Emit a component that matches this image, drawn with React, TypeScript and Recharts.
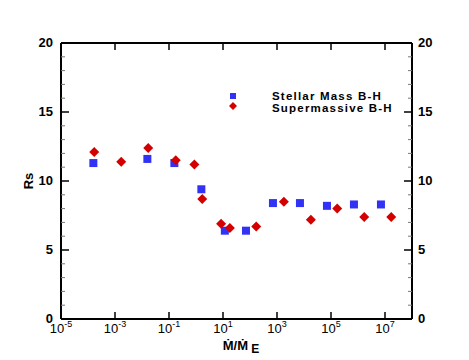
import React from 'react'
import { ScatterChart, Scatter, XAxis, YAxis, Legend } from 'recharts'

// accretion rate (Mdot / Mdot_E) and Rs
const stellarRate = [1.58e-4, 0.0158, 0.158, 1.58, 11.7, 71, 708, 7.08e3, 7.08e4, 7.08e5, 7.08e6]
const stellarRs = [11.3, 11.6, 11.3, 9.4, 6.4, 6.4, 8.4, 8.4, 8.2, 8.3, 8.3]

const smbhRate = [1.7e-4, 1.7e-3, 1.7e-2, 0.178, 0.87, 1.7, 8.5, 18, 170, 1.8e3, 1.8e4, 1.7e5, 1.7e6, 1.7e7]
const smbhRs = [12.1, 11.4, 12.4, 11.5, 11.2, 8.7, 6.9, 6.6, 6.7, 8.5, 7.2, 8.0, 7.4, 7.4]

const xTickExp = [-5, -3, -1, 1, 3, 5, 7]
const yTicks = Array.from({ length: 21 }, (_, i) => i)

const BLUE = '#3232f6'
const RED = '#d40000'
const FONT = '"Liberation Sans", Arial, Helvetica, sans-serif'

const stellar = stellarRate.map((x, i) => ({ x, y: stellarRs[i] }))
const smbh = smbhRate.map((x, i) => ({ x, y: smbhRs[i] }))

const Square = ({ cx, cy }: any) => <rect x={cx - 4} y={cy - 4} width={8} height={8} fill={BLUE} />
const Diamond = ({ cx, cy }: any) => (
  <polygon points={`${cx},${cy - 5} ${cx + 5},${cy} ${cx},${cy + 5} ${cx - 5},${cy}`} fill={RED} />
)
const Nothing = () => <g />

const BottomTick = ({ x, y, payload }: any) => {
  const exp = Math.round(Math.log10(payload.value))
  return (
    <g>
      <line x1={x} y1={y} x2={x} y2={y - 7} stroke="#000" strokeWidth={1.5} />
      <text x={x} y={y + 14} textAnchor="middle" fontFamily={FONT} fontSize={13} fill="#000">
        10<tspan fontSize={9} dy={-6}>{exp}</tspan>
      </text>
    </g>
  )
}

const TopTick = ({ x, y }: any) => <line x1={x} y1={y} x2={x} y2={y + 7} stroke="#000" strokeWidth={1.5} />

const LeftTick = ({ x, y, payload }: any) => {
  const major = payload.value % 5 === 0
  return (
    <g>
      <line x1={x} y1={y} x2={x + (major ? 8 : 4)} y2={y} stroke={major ? '#000' : '#777'} strokeWidth={major ? 1.5 : 1} />
      {major && (
        <text x={x - 8} y={y} dy={4} textAnchor="end" fontFamily={FONT} fontWeight="bold" fontSize={13} fill="#000">
          {payload.value}
        </text>
      )}
    </g>
  )
}

const RightTick = ({ x, y, payload }: any) => {
  const major = payload.value % 5 === 0
  return (
    <g>
      <line x1={x} y1={y} x2={x - (major ? 8 : 4)} y2={y} stroke={major ? '#000' : '#777'} strokeWidth={major ? 1.5 : 1} />
      {major && (
        <text x={x + 6} y={y} dy={4} textAnchor="start" fontFamily={FONT} fontWeight="bold" fontSize={13} fill="#000">
          {payload.value}
        </text>
      )}
    </g>
  )
}

const LegendBox = () => (
  <svg width={180} height={30}>
    <rect x={2} y={4} width={6} height={6} fill={BLUE} />
    <polygon points="5,13 9,17 5,21 1,17" fill={RED} />
    <text x={44} y={11} fontFamily={FONT} fontWeight="bold" fontSize={11.5} letterSpacing={1.2}>Stellar Mass B-H</text>
    <text x={44} y={23} fontFamily={FONT} fontWeight="bold" fontSize={11.5} letterSpacing={1.2}>Supermassive B-H</text>
  </svg>
)

export default function App() {
  return (
    <div style={{ position: 'absolute', left: 0, top: 0, background: '#fff' }}>
      <ScatterChart width={469} height={360} margin={{ top: 0, right: 0, bottom: 0, left: 0 }}>
        <XAxis
          xAxisId="bottom"
          type="number"
          dataKey="x"
          scale="log"
          domain={[1e-5, 1e8]}
          allowDataOverflow
          ticks={xTickExp.map((e) => Math.pow(10, e))}
          interval={0}
          height={41}
          tickSize={0}
          tickMargin={0}
          tickLine={false}
          axisLine={{ stroke: '#000', strokeWidth: 2 }}
          tick={<BottomTick />}
          label={{
            content: ({ viewBox }: any) => (
              <text x={viewBox.x + 180} y={viewBox.y + 31} textAnchor="middle" fontFamily={FONT} fontWeight="bold" fontSize={13}>
                Ṁ/Ṁ<tspan dy={3} fontSize={12}> E</tspan>
              </text>
            ),
          }}
        />
        <XAxis
          xAxisId="top"
          orientation="top"
          type="number"
          dataKey="x"
          scale="log"
          domain={[1e-5, 1e8]}
          allowDataOverflow
          ticks={xTickExp.map((e) => Math.pow(10, e))}
          interval={0}
          height={43}
          tickSize={0}
          tickMargin={0}
          tickLine={false}
          axisLine={{ stroke: '#000', strokeWidth: 2 }}
          tick={<TopTick />}
        />
        <YAxis
          yAxisId="left"
          type="number"
          dataKey="y"
          domain={[0, 20]}
          allowDataOverflow
          ticks={yTicks}
          interval={0}
          width={61}
          tickSize={0}
          tickMargin={0}
          tickLine={false}
          axisLine={{ stroke: '#000', strokeWidth: 2 }}
          tick={<LeftTick />}
          label={{
            content: ({ viewBox }: any) => (
              <text
                x={29}
                y={viewBox.y + viewBox.height / 2}
                transform={`rotate(-90, 29, ${viewBox.y + viewBox.height / 2})`}
                textAnchor="middle"
                dy={4}
                fontFamily={FONT}
                fontWeight="bold"
                fontSize={13}
              >
                Rs
              </text>
            ),
          }}
        />
        <YAxis
          yAxisId="right"
          orientation="right"
          type="number"
          dataKey="y"
          domain={[0, 20]}
          allowDataOverflow
          ticks={yTicks}
          interval={0}
          width={57}
          tickSize={0}
          tickMargin={0}
          tickLine={false}
          axisLine={{ stroke: '#000', strokeWidth: 2 }}
          tick={<RightTick />}
        />
        <Legend
          layout="vertical"
          align="center"
          verticalAlign="middle"
          wrapperStyle={{ left: 228, top: 89, width: 180, height: 30 }}
          content={() => <LegendBox />}
        />
        <Scatter name="Stellar Mass B-H" data={stellar} xAxisId="bottom" yAxisId="left" shape={<Square />} isAnimationActive={false} />
        <Scatter name="Supermassive B-H" data={smbh} xAxisId="bottom" yAxisId="left" shape={<Diamond />} isAnimationActive={false} />
        {/* frame axes need a series bound to them to be drawn */}
        <Scatter name="frame" data={stellar} xAxisId="top" yAxisId="right" shape={<Nothing />} legendType="none" isAnimationActive={false} />
      </ScatterChart>
    </div>
  )
}
